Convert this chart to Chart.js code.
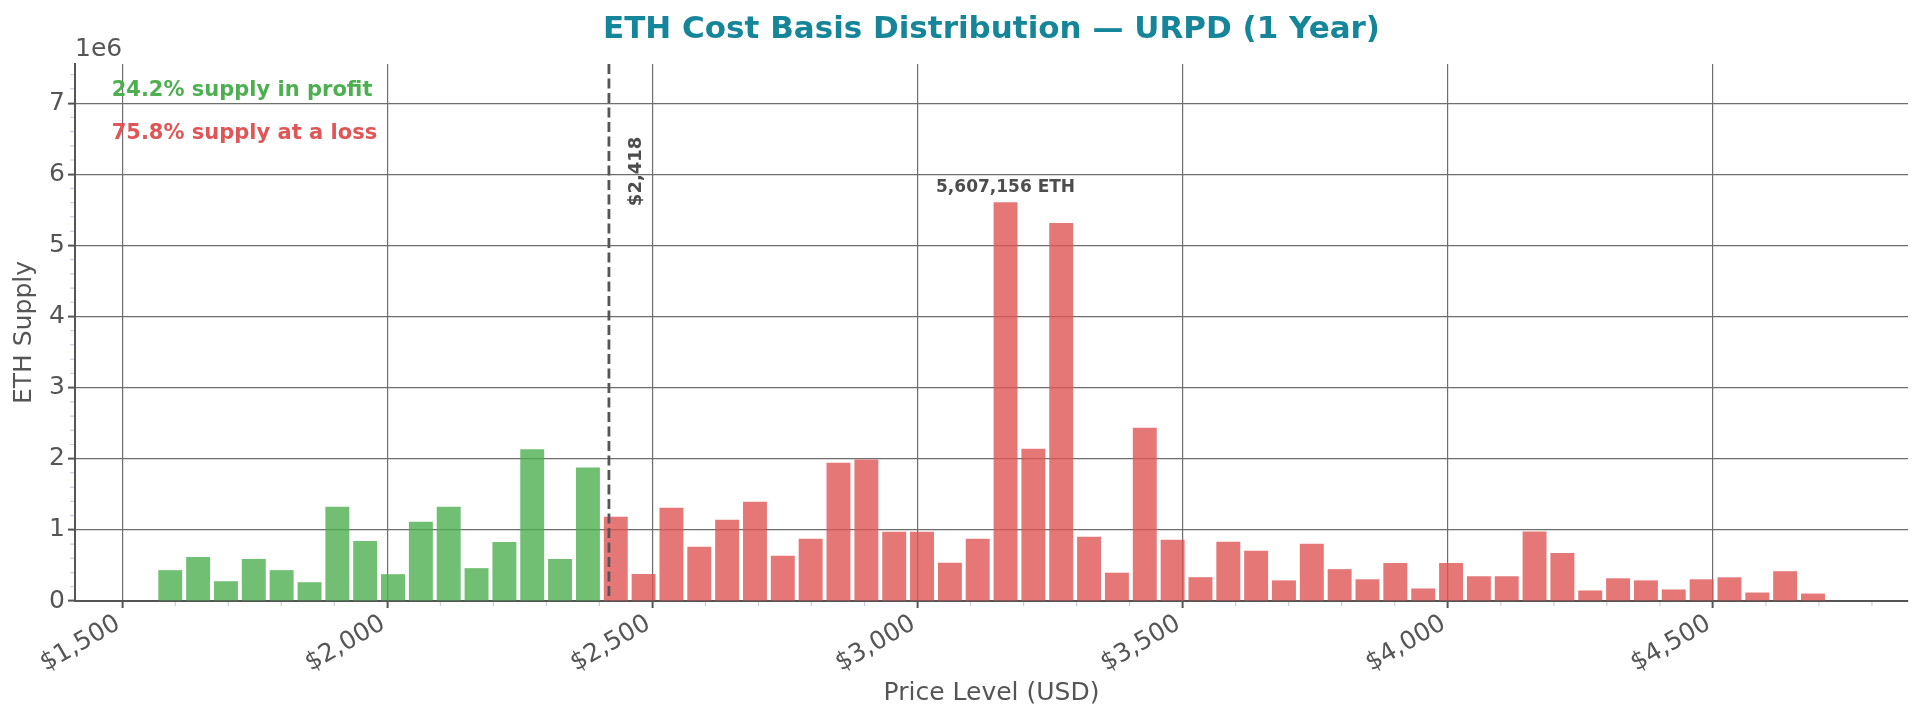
<!DOCTYPE html>
<html>
<head>
<meta charset="utf-8">
<title>ETH Cost Basis Distribution — URPD (1 Year)</title>
<script src="https://cdn.jsdelivr.net/npm/chart.js@4.4.1/dist/chart.umd.min.js"></script>
<style>
  html, body { margin: 0; padding: 0; background: #fff; }
  #urpd { display: block; }
</style>
</head>
<body>
<canvas id="urpd" width="1923" height="719"></canvas>
<script>
// bin centres (USD) and ETH held in each bin
const priceBins = [
  1590.7, 1643.2, 1695.7, 1748.2, 1800.7, 1853.3, 1905.8, 1958.3, 2010.8, 2063.3,
  2115.8, 2168.3, 2220.8, 2273.3, 2325.8, 2378.4, 2430.9, 2483.4, 2535.9, 2588.4,
  2640.9, 2693.4, 2745.9, 2798.4, 2850.9, 2903.5, 2956.0, 3008.5, 3061.0, 3113.5,
  3166.0, 3218.5, 3271.0, 3323.5, 3376.0, 3428.6, 3481.1, 3533.6, 3586.1, 3638.6,
  3691.1, 3743.6, 3796.1, 3848.6, 3901.1, 3953.7, 4006.2, 4058.7, 4111.2, 4163.7,
  4216.2, 4268.7, 4321.2, 4373.7, 4426.2, 4478.8, 4531.3, 4583.8, 4636.3, 4688.8
];
const supplyEth = [
  434000, 618000, 278000, 590000, 434000, 264000, 1325000, 844000, 377000, 1113000,
  1325000, 462000, 830000, 2132000, 590000, 1877000, 1185000, 380000, 1311000, 761000,
  1143000, 1396000, 637000, 876000, 1944000, 1991000, 974000, 974000, 539000, 876000,
  5607156, 2140000, 5316000, 904000, 398000, 2436000, 862000, 335000, 833000, 705000,
  290000, 805000, 448000, 305000, 533000, 176000, 533000, 348000, 348000, 976000,
  676000, 148000, 319000, 290000, 162000, 305000, 333000, 119000, 419000, 105000
];
const xTickValues = [1500, 2000, 2500, 3000, 3500, 4000, 4500];
const yTickValues = [0, 1e6, 2e6, 3e6, 4e6, 5e6, 6e6, 7e6];

const currentPrice = 2418;
const profitPct = '24.2%';
const lossPct = '75.8%';

const GREEN = '#4CAF50';
const RED = '#E05555';
const barColors = priceBins.map(p => p <= currentPrice ? 'rgba(76,175,80,0.8)' : 'rgba(224,85,85,0.8)');

const FONT = "'DejaVu Sans', 'Liberation Sans', sans-serif";

const urpdOverlay = {
  id: 'urpdOverlay',
  afterDatasetsDraw(chart) {
    const { ctx, chartArea, scales: { x, y } } = chart;
    const px = x.getPixelForValue(currentPrice);
    ctx.save();
    ctx.strokeStyle = '#555';
    ctx.lineWidth = 2.8;
    ctx.setLineDash([10, 4.5]);
    ctx.beginPath();
    ctx.moveTo(px, chartArea.top);
    ctx.lineTo(px, chartArea.bottom);
    ctx.stroke();
    ctx.setLineDash([]);

    // price label next to the line
    ctx.translate(px + 27, y.getPixelForValue(y.max * 0.8));
    ctx.rotate(-Math.PI / 2);
    ctx.fillStyle = '#4d4d4d';
    ctx.font = 'bold 18px ' + FONT;
    ctx.textAlign = 'center';
    ctx.textBaseline = 'middle';
    ctx.fillText('$' + currentPrice.toLocaleString('en-US'), 0, 0);
    ctx.restore();

    // peak bar label
    let peak = 0;
    supplyEth.forEach((v, i) => { if (v > supplyEth[peak]) peak = i; });
    ctx.save();
    ctx.fillStyle = '#4d4d4d';
    ctx.font = 'bold 17px ' + FONT;
    ctx.textAlign = 'center';
    ctx.textBaseline = 'alphabetic';
    ctx.fillText(supplyEth[peak].toLocaleString('en-US') + ' ETH',
      x.getPixelForValue(priceBins[peak]), y.getPixelForValue(supplyEth[peak]) - 10);

    // profit / loss summary
    const w = chartArea.right - chartArea.left;
    const h = chartArea.bottom - chartArea.top;
    ctx.font = 'bold 21px ' + FONT;
    ctx.textAlign = 'left';
    ctx.textBaseline = 'middle';
    ctx.fillStyle = GREEN;
    ctx.fillText(profitPct + ' supply in profit', chartArea.left + 0.02 * w, chartArea.top + 0.05 * h);
    ctx.fillStyle = RED;
    ctx.fillText(lossPct + ' supply at a loss', chartArea.left + 0.02 * w, chartArea.top + 0.13 * h);
    ctx.restore();
  },
  afterDraw(chart) {
    const { ctx, chartArea, scales: { x, y } } = chart;
    ctx.save();
    // minor ticks
    ctx.strokeStyle = '#c9cce0';
    ctx.lineWidth = 1.2;
    ctx.beginPath();
    for (let v = 1500; v <= x.max; v += 100) {
      if (v % 500 === 0) continue;
      const px = x.getPixelForValue(v);
      ctx.moveTo(px, chartArea.bottom + 1);
      ctx.lineTo(px, chartArea.bottom + 5);
    }
    for (let v = 200000; v <= y.max; v += 200000) {
      if (v % 1000000 === 0) continue;
      const py = y.getPixelForValue(v);
      ctx.moveTo(chartArea.left - 1, py);
      ctx.lineTo(chartArea.left - 5, py);
    }
    ctx.stroke();

    // offset text of the y axis
    ctx.fillStyle = '#555';
    ctx.font = '25px ' + FONT;
    ctx.textAlign = 'left';
    ctx.textBaseline = 'bottom';
    ctx.fillText('1e6', chartArea.left, chartArea.top - 2);
    ctx.restore();
  }
};

new Chart(document.getElementById('urpd'), {
  type: 'bar',
  data: {
    datasets: [{
      label: 'ETH Supply',
      data: priceBins.map((p, i) => ({ x: p, y: supplyEth[i] })),
      backgroundColor: barColors,
      borderWidth: 0,
      barPercentage: 0.86,
      categoryPercentage: 1.0
    }]
  },
  options: {
    responsive: false,
    animation: false,
    devicePixelRatio: 1,
    layout: { padding: { left: 0, right: 15, top: 0, bottom: 0 } },
    plugins: {
      legend: { display: false },
      tooltip: { enabled: false },
      title: {
        display: true,
        fullSize: false,
        text: 'ETH Cost Basis Distribution — URPD (1 Year)',
        color: '#15859a',
        font: { family: FONT, size: 31, weight: 'bold' },
        padding: { top: 11, bottom: 15.8 }
      }
    },
    scales: {
      x: {
        type: 'linear',
        min: 1411,
        max: 4868,
        offset: false,
        afterBuildTicks: s => { s.ticks = xTickValues.map(v => ({ value: v })); },
        afterFit: s => { s.height = 118; },
        grid: { offset: false, color: '#6e6e6e', lineWidth: 1.2, tickLength: 7, tickColor: '#555', tickWidth: 2 },
        border: { display: true, color: '#555', width: 2 },
        ticks: {
          autoSkip: false,
          minRotation: 30,
          maxRotation: 30,
          padding: 1,
          labelOffset: -4,
          color: '#555',
          font: { family: FONT, size: 25 },
          callback: v => '$' + v.toLocaleString('en-US')
        },
        title: {
          display: true,
          text: 'Price Level (USD)',
          color: '#555',
          font: { family: FONT, size: 25 },
          padding: { top: 0, bottom: 11 }
        }
      },
      y: {
        min: 0,
        max: 7550000,
        afterBuildTicks: s => { s.ticks = yTickValues.map(v => ({ value: v })); },
        afterFit: s => { s.width = 75; },
        grid: { color: '#6e6e6e', lineWidth: 1.2, tickLength: 7, tickColor: '#555', tickWidth: 2 },
        border: { display: true, color: '#555', width: 2 },
        ticks: {
          padding: 3,
          color: '#555',
          font: { family: FONT, size: 25 },
          callback: v => String(v / 1e6)
        },
        title: {
          display: true,
          text: 'ETH Supply',
          color: '#555',
          font: { family: FONT, size: 25 },
          padding: { top: 9, bottom: 0 }
        }
      }
    }
  },
  plugins: [urpdOverlay]
});
</script>
</body>
</html>
